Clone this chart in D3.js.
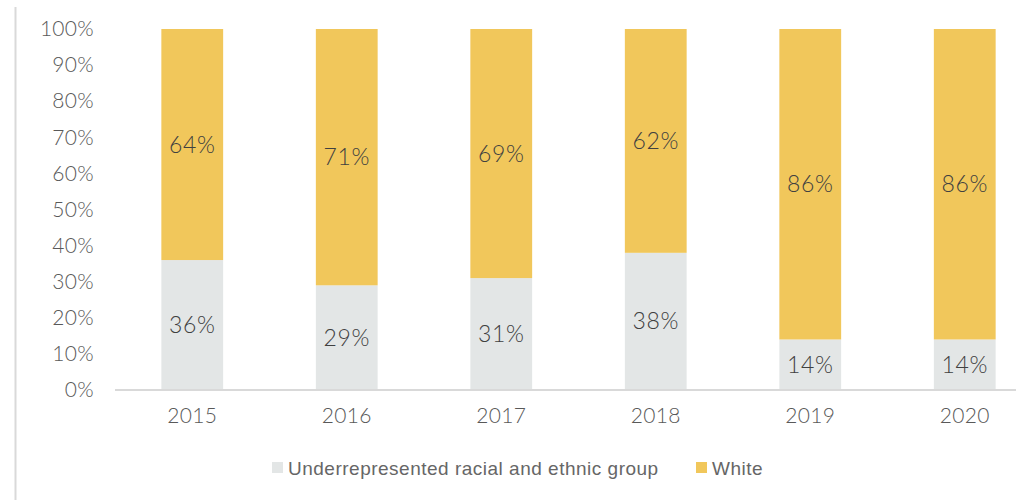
<!DOCTYPE html>
<html lang="en">
<head>
<meta charset="UTF-8">
<title>Share by year</title>
<script src="https://d3js.org/d3.v7.min.js"></script>
<style>
  body { margin: 0; background: #fff; }
  svg { display: block; }
  .tick text { font-family: Lato, "Open Sans", sans-serif; font-weight: 300; fill: #595959; font-size: 21px; letter-spacing: 0.3px; }
  .seg-label { font-family: Lato, "Open Sans", sans-serif; font-weight: 300; fill: #404040; font-size: 23px; letter-spacing: 0.6px; }
  .legend text { font-family: "Liberation Sans", Arial, sans-serif; fill: #666; font-size: 19px; letter-spacing: 0.5px; }
</style>
</head>
<body>
<div id="chart"></div>
<script>
  const years = ["2015", "2016", "2017", "2018", "2019", "2020"];
  const underrepresented = [36, 29, 31, 38, 14, 14];
  const white = [64, 71, 69, 62, 86, 86];
  const yTicks = [0, 10, 20, 30, 40, 50, 60, 70, 80, 90, 100];
  const seriesNames = ["Underrepresented racial and ethnic group", "White"];
  const seriesColors = ["#e3e6e6", "#f1c75b"];

  const width = 1016, height = 500;
  const svg = d3.select("#chart").append("svg")
      .attr("width", width).attr("height", height);

  // thin frame line on the left edge
  svg.append("line")
      .attr("x1", 15.5).attr("x2", 15.5).attr("y1", 7).attr("y2", height)
      .attr("stroke", "#d9d9d9").attr("stroke-width", 2);

  const x = d3.scaleBand().domain(years).range([115, 1042]).padding(0.6).paddingOuter(0.3);
  const y = d3.scaleLinear().domain([0, 100]).range([390, 29]);

  // y axis (labels only)
  const yAxis = svg.append("g")
      .attr("transform", "translate(94,0)")
      .call(d3.axisLeft(y).tickValues(yTicks).tickFormat(d => d + "%").tickSize(0).tickPadding(0));
  yAxis.select(".domain").remove();

  const stacked = years.map((yr, i) => ({
    year: yr,
    parts: [
      { y0: 0, y1: underrepresented[i], v: underrepresented[i], c: seriesColors[0] },
      { y0: underrepresented[i], y1: underrepresented[i] + white[i], v: white[i], c: seriesColors[1] }
    ]
  }));

  const groups = svg.selectAll("g.bar").data(stacked).enter().append("g").attr("class", "bar");

  groups.selectAll("rect").data(d => d.parts.map(p => ({ ...p, year: d.year })))
    .enter().append("rect")
      .attr("x", d => x(d.year))
      .attr("width", x.bandwidth())
      .attr("y", d => y(d.y1))
      .attr("height", d => y(d.y0) - y(d.y1))
      .attr("fill", d => d.c);

  groups.selectAll("text").data(d => d.parts.map(p => ({ ...p, year: d.year })))
    .enter().append("text")
      .attr("class", "seg-label")
      .attr("x", d => x(d.year) + x.bandwidth() / 2)
      .attr("y", d => y((d.y0 + d.y1) / 2))
      .attr("dy", "0.35em")
      .attr("text-anchor", "middle")
      .text(d => d.v + "%");

  // x axis
  const xAxis = svg.append("g")
      .attr("transform", "translate(0,390)")
      .call(d3.axisBottom(x).tickSize(0).tickPadding(20));
  xAxis.select(".domain").attr("stroke", "#d9d9d9").attr("stroke-width", 2)
      .attr("d", "M115,0H" + width);
  xAxis.selectAll("text").attr("dy", "0.6em");

  // legend
  const legendX = [272, 696];
  const legend = svg.append("g").attr("class", "legend");
  seriesNames.forEach((name, i) => {
    legend.append("rect")
        .attr("x", legendX[i]).attr("y", 462)
        .attr("width", 11).attr("height", 11)
        .attr("fill", seriesColors[i]);
    legend.append("text")
        .attr("x", legendX[i] + 16).attr("y", 468)
        .attr("dy", "0.35em")
        .text(name);
  });
</script>
</body>
</html>
